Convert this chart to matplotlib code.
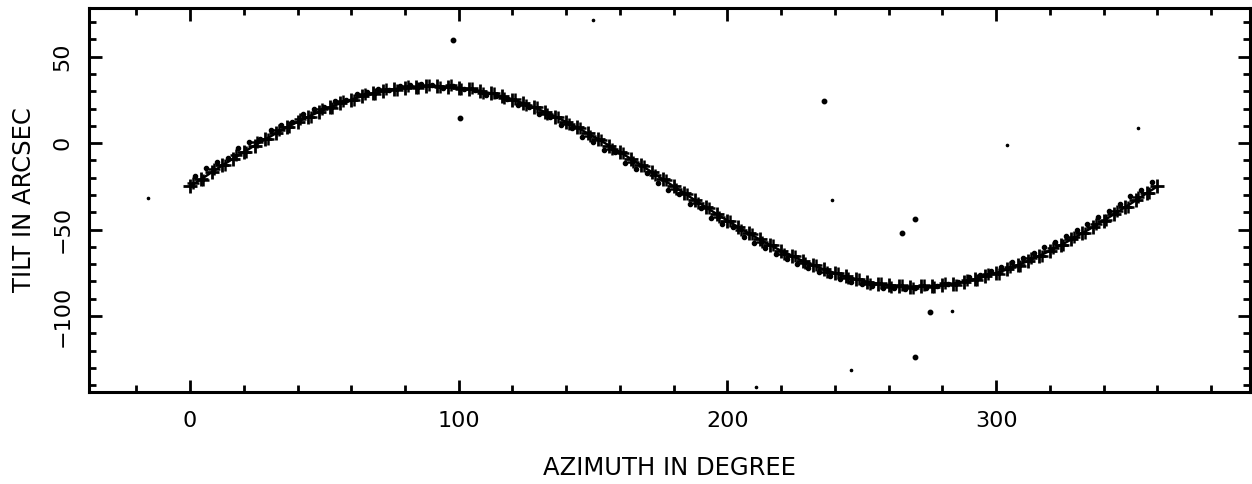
import matplotlib
matplotlib.use("Agg")
import matplotlib.pyplot as plt
from matplotlib.ticker import MultipleLocator

# Fitted tilt curve (plus markers), azimuth in degrees
az_fit = [0, 4, 8, 12, 16, 20, 24, 28, 32, 36, 40, 44, 48, 52, 56, 60, 64, 68, 72, 76,
          80, 84, 88, 92, 96, 100, 104, 108, 112, 116, 120, 124, 128, 132, 136, 140, 144, 148,
          152, 156, 160, 164, 168, 172, 176, 180, 184, 188, 192, 196, 200, 204, 208, 212, 216,
          220, 224, 228, 232, 236, 240, 244, 248, 252, 256, 260, 264, 268, 272, 276, 280, 284,
          288, 292, 296, 300, 304, 308, 312, 316, 320, 324, 328, 332, 336, 340, 344, 348, 352,
          356, 360]
tilt_fit = [-25.0, -21.0, -16.9, -12.9, -9.0, -5.2, -1.4, 2.2, 5.7, 9.1, 12.3, 15.3, 18.1,
            20.7, 23.1, 25.2, 27.1, 28.8, 30.2, 31.3, 32.1, 32.7, 33.0, 32.9, 32.7, 32.1,
            31.3, 30.2, 28.8, 27.1, 25.2, 23.1, 20.7, 18.1, 15.3, 12.3, 9.1, 5.7, 2.2, -1.4,
            -5.2, -9.0, -12.9, -16.9, -21.0, -25.0, -29.0, -33.1, -37.1, -41.0, -44.8, -48.6,
            -52.2, -55.7, -59.1, -62.3, -65.3, -68.1, -70.7, -73.1, -75.2, -77.1, -78.8, -80.2,
            -81.3, -82.1, -82.7, -83.0, -82.9, -82.7, -82.1, -81.3, -80.2, -78.8, -77.1, -75.2,
            -73.1, -70.7, -68.1, -65.3, -62.3, -59.1, -55.7, -52.2, -48.6, -44.8, -41.0, -37.1,
            -33.1, -29.0, -25.0]

# Measured tilt, first run (plus markers)
az_run1 = [1, 5, 9, 13, 17, 21, 25, 29, 33, 37, 41, 45, 49, 53, 57, 61, 65, 69, 73, 77,
           81, 85, 89, 93, 97, 101, 105, 109, 113, 117, 121, 125, 129, 133, 137, 141, 145, 149,
           153, 157, 161, 165, 169, 173, 177, 181, 185, 189, 193, 197, 201, 205, 209, 213, 217,
           221, 225, 229, 233, 237, 241, 245, 249, 253, 257, 261, 265, 269, 273, 277, 281, 285,
           289, 293, 297, 301, 305, 309, 313, 317, 321, 325, 329, 333, 337, 341, 345, 349, 353,
           357]
tilt_run1 = [-23.1, -21.2, -14.8, -12.6, -7.1, -5.0, 0.6, 2.4, 7.5, 9.2, 14.0, 15.3, 19.7,
             20.6, 24.5, 25.0, 28.4, 28.5, 31.3, 30.9, 33.2, 32.1, 33.8, 32.2, 33.4, 31.2,
             31.8, 29.1, 29.2, 26.0, 25.5, 21.9, 20.8, 16.7, 15.3, 10.8, 9.0, 4.2, 2.0, -3.1,
             -5.6, -10.8, -13.2, -18.7, -21.3, -26.8, -29.3, -34.9, -37.4, -42.8, -45.1,
             -50.3, -52.4, -57.4, -59.2, -63.9, -65.3, -69.5, -70.6, -74.4, -75.0, -78.3,
             -78.5, -81.3, -80.9, -83.1, -82.1, -83.8, -82.2, -83.4, -81.2, -81.8, -79.1,
             -79.2, -76.0, -75.5, -71.8, -70.9, -66.7, -65.4, -60.8, -59.1, -54.1, -52.1,
             -46.9, -44.7, -39.3, -36.9, -31.4, -28.8]

# Measured tilt, second run (dots)
az_obs = [2, 6, 10, 14, 18, 22, 26, 30, 34, 38, 42, 46, 50, 54, 58, 62, 66, 70, 74, 78,
          82, 86, 90, 94, 98, 102, 106, 110, 114, 118, 122, 126, 130, 134, 138, 142, 146, 150,
          154, 158, 162, 166, 170, 174, 178, 182, 186, 190, 194, 198, 202, 206, 210, 214, 218,
          222, 226, 230, 234, 238, 242, 246, 250, 254, 258, 262, 266, 270, 274, 278, 282, 286,
          290, 294, 298, 302, 306, 310, 314, 318, 322, 326, 330, 334, 338, 342, 346, 350, 354,
          358]
tilt_obs = [-18.8, -14.6, -11.2, -8.6, -3.0, 0.4, 2.5, 7.8, 10.6, 12.4, 17.1, 19.5, 21.0,
            24.4, 25.1, 28.3, 29.6, 31.2, 31.0, 33.1, 33.5, 34.0, 33.6, 32.0, 32.8, 31.5,
            30.6, 27.7, 27.2, 25.5, 21.8, 20.9, 16.8, 15.2, 10.4, 8.9, 3.8, 0.9, -4.1, -5.2,
            -11.3, -14.8, -17.0, -23.2, -26.9, -29.4, -35.3, -37.5, -43.1, -46.9, -48.8,
            -54.4, -57.8, -60.6, -64.2, -67.3, -70.1, -72.4, -74.3, -77.0, -78.5, -80.3,
            -81.6, -82.8, -83.7, -84.1, -84.3, -84.0, -83.8, -82.6, -81.4, -80.6, -77.6,
            -76.1, -73.8, -71.6, -69.0, -66.3, -63.8, -60.2, -57.4, -53.6, -50.5, -46.6,
            -42.8, -39.1, -35.0, -30.6, -26.9, -22.5]

# Outlying measurements (clear dots)
az_out = [97.9, 100.5, 236.0, 265.0, 270.0, 275.4, 270.0]
tilt_out = [59.9, 14.3, 24.3, -52.0, -44.0, -97.6, -124.0]

# Faint specks
az_speck = [-15.6, 150.0, 239.0, 304.0, 353.0, 283.6, 246.0, 210.6]
tilt_speck = [-31.6, 71.0, -33.0, -1.3, 9.0, -97.0, -131.0, -141.0]

x_ticks = [0, 100, 200, 300]
y_ticks = [-100, -50, 0, 50]

fig = plt.figure(figsize=(12.52, 4.84), dpi=100)
ax = fig.add_axes([89 / 1252, 92 / 484, (1250 - 89) / 1252, (392 - 8) / 484])

ax.plot(az_fit, tilt_fit, color="black", lw=1.8, marker="+", ms=10, mew=2.0)
ax.plot(az_run1, tilt_run1, ls="none", marker="+", ms=8, mew=1.8, color="black")
ax.plot(az_obs, tilt_obs, ls="none", marker="o", ms=3.0, color="black")
ax.plot(az_out, tilt_out, ls="none", marker="o", ms=3.2, color="black")
ax.plot(az_speck, tilt_speck, ls="none", marker="o", ms=1.6, color="black")

ax.set_xlim(-37.6, 394.5)
ax.set_ylim(-144.0, 78.2)
ax.set_xticks(x_ticks)
ax.set_yticks(y_ticks)
ax.xaxis.set_minor_locator(MultipleLocator(20))
ax.yaxis.set_minor_locator(MultipleLocator(10))
ax.tick_params(which="both", direction="in", top=True, right=True, width=2,
               labelsize=16, colors="black")
ax.tick_params(which="major", length=9)
ax.tick_params(which="minor", length=5)
ax.tick_params(axis="x", pad=14)
ax.tick_params(axis="y", pad=12)
for lab in ax.get_yticklabels():
    lab.set_rotation(90)
    lab.set_va("center")
for sp in ax.spines.values():
    sp.set_linewidth(2.2)

ax.set_xlabel("AZIMUTH IN DEGREE", fontsize=17.5, labelpad=18)
ax.set_ylabel("TILT IN ARCSEC", fontsize=17.5, labelpad=12)

fig.savefig("out.png", dpi=100)
